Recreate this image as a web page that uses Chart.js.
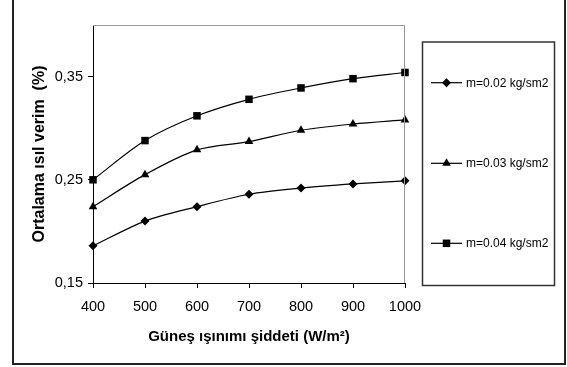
<!DOCTYPE html>
<html>
<head>
<meta charset="utf-8">
<script src="https://cdn.jsdelivr.net/npm/chart.js"></script>
<style>
  html, body { margin: 0; padding: 0; background: #fff; }
  #wrap { width: 567px; height: 367px; }
</style>
</head>
<body>
<div id="wrap"><canvas id="chartVerim" width="567" height="367"></canvas></div>
<script>
// ── data ──
const irradiance = ['400', '500', '600', '700', '800', '900', '1000'];
const yTicks = [0.15, 0.25, 0.35];
const seriesLabels = ['m=0.02 kg/sm2', 'm=0.03 kg/sm2', 'm=0.04 kg/sm2'];
const m002 = [0.186, 0.210, 0.224, 0.236, 0.242, 0.246, 0.249];
const m003 = [0.224, 0.255, 0.279, 0.287, 0.298, 0.304, 0.308];
const m004 = [0.250, 0.288, 0.312, 0.328, 0.339, 0.348, 0.354];
const markers = ['rectRot', 'triangle', 'rect'];
const markerR = [4.5, 5, 5.3];

const FONT = "'Liberation Sans', Arial, sans-serif";

function drawMarker(ctx, style, x, y, r) {
  ctx.beginPath();
  if (style === 'rectRot') {
    ctx.moveTo(x, y - r); ctx.lineTo(x + r, y); ctx.lineTo(x, y + r); ctx.lineTo(x - r, y);
  } else if (style === 'triangle') {
    const w = r * Math.sqrt(3) / 2;
    ctx.moveTo(x, y - r); ctx.lineTo(x + w, y + r / 2); ctx.lineTo(x - w, y + r / 2);
  } else {
    const s = r * Math.SQRT1_2;
    ctx.rect(x - s, y - s, 2 * s, 2 * s);
  }
  ctx.closePath();
  ctx.fill();
}

// outer frame, gray top/right plot edges and the boxed legend
const frameAndLegend = {
  id: 'frameAndLegend',
  beforeDraw(chart) {
    const ctx = chart.ctx;
    ctx.save();
    ctx.fillStyle = '#fff';
    ctx.fillRect(0, 0, chart.width, chart.height);
    ctx.strokeStyle = '#222';
    ctx.lineWidth = 2;
    ctx.strokeRect(13, -5, 552, 369);
    ctx.restore();
  },
  afterDraw(chart) {
    const ctx = chart.ctx;
    const a = chart.chartArea;
    ctx.save();
    ctx.strokeStyle = '#999';
    ctx.lineWidth = 1;
    ctx.beginPath();
    ctx.moveTo(a.left, a.top + 0.5);
    ctx.lineTo(a.right - 0.5, a.top + 0.5);
    ctx.lineTo(a.right - 0.5, a.bottom);
    ctx.stroke();

    ctx.strokeStyle = '#333';
    ctx.lineWidth = 1.5;
    ctx.strokeRect(422.5, 42, 132, 243.5);

    const rowY = [82.7, 163.3, 243.3];
    ctx.font = '12px ' + FONT;
    ctx.textBaseline = 'middle';
    ctx.textAlign = 'left';
    chart.data.datasets.forEach((ds, i) => {
      const y = rowY[i];
      ctx.strokeStyle = '#000';
      ctx.lineWidth = 1.2;
      ctx.beginPath();
      ctx.moveTo(431, y); ctx.lineTo(462, y);
      ctx.stroke();
      ctx.fillStyle = '#000';
      drawMarker(ctx, markers[i], 446.5, y, markerR[i]);
      ctx.fillText(ds.label, 466, y + 0.5);
    });
    ctx.restore();
  }
};

// draw series markers with our own shapes
const seriesMarkers = {
  id: 'seriesMarkers',
  afterDatasetsDraw(chart) {
    const ctx = chart.ctx;
    ctx.save();
    ctx.fillStyle = '#000';
    chart.data.datasets.forEach((ds, i) => {
      chart.getDatasetMeta(i).data.forEach(pt => drawMarker(ctx, markers[i], pt.x, pt.y, markerR[i]));
    });
    ctx.restore();
  }
};

const mkSet = (label, data) => ({
  label, data,
  borderColor: '#000',
  borderWidth: 1.2,
  pointRadius: 0,
  pointHoverRadius: 0,
  fill: false,
  tension: 0.3,
});

new Chart(document.getElementById('chartVerim'), {
  type: 'line',
  data: {
    labels: irradiance,
    datasets: [mkSet(seriesLabels[0], m002), mkSet(seriesLabels[1], m003), mkSet(seriesLabels[2], m004)],
  },
  options: {
    responsive: false,
    animation: false,
    devicePixelRatio: 1,
    layout: { padding: { left: 0, right: 162, top: 25, bottom: 0 } },
    plugins: { legend: { display: false }, tooltip: { enabled: false } },
    scales: {
      x: {
        type: 'category',
        offset: false,
        grid: { display: true, drawOnChartArea: false, drawTicks: true, tickLength: 5, color: '#000', offset: false },
        border: { display: true, color: '#000', width: 1 },
        ticks: { color: '#000', font: { family: FONT, size: 14.5 }, padding: 10, maxRotation: 0, autoSkip: false },
        title: { display: true, text: 'Güneş ışınımı şiddeti (W/m²)', color: '#000', font: { family: FONT, size: 15, weight: 'bold' }, padding: { top: 0, bottom: 21 } },
        afterFit: s => { s.height = 84; s.paddingLeft = 0; s.paddingRight = 0; },
      },
      y: {
        min: 0.15,
        max: 0.40,
        grid: { display: true, drawOnChartArea: false, drawTicks: true, tickLength: 5, color: '#000' },
        border: { display: true, color: '#000', width: 1 },
        ticks: { color: '#000', font: { family: FONT, size: 14.5 }, padding: 5, callback: v => v.toFixed(2).replace('.', ',') },
        afterBuildTicks: s => { s.ticks = yTicks.map(v => ({ value: v })); },
        title: { display: true, text: 'Ortalama ısıl verim  (%)', color: '#000', font: { family: FONT, size: 16, weight: 'bold' }, padding: { top: 30, bottom: 0 } },
        afterFit: s => { s.width = 93; s.paddingTop = 0; s.paddingBottom = 0; },
      },
    },
  },
  plugins: [frameAndLegend, seriesMarkers],
});
</script>
</body>
</html>
